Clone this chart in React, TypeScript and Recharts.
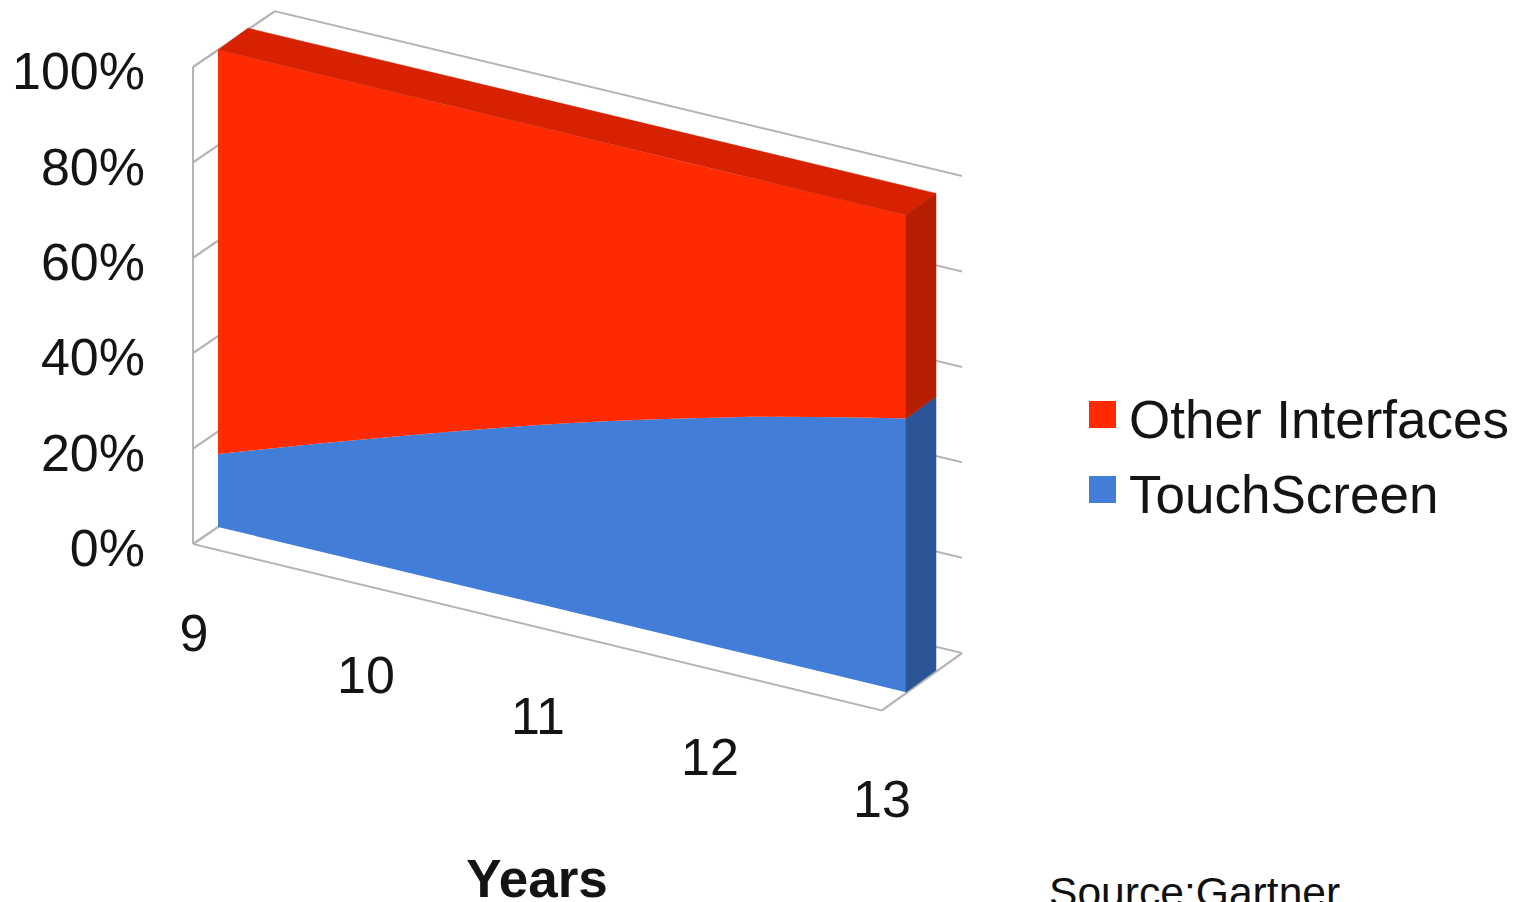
import { Area, AreaChart, CartesianGrid, Legend, XAxis, YAxis } from "recharts";

const years = ["9", "10", "11", "12", "13"];
const touchScreen = [15.3, 27.5, 39, 49, 57.4];
const otherInterfaces = [84.7, 72.5, 61, 51, 42.6];
const percentTicks = [0, 20, 40, 60, 80, 100];

const tableData = years.map((year, i) => ({
  year,
  touchScreen: touchScreen[i],
  otherInterfaces: otherInterfaces[i],
}));

const WIDTH = 1520;
const HEIGHT = 902;
const PLOT_LEFT = 218;
const PLOT_RIGHT = 906;
const PLOT_TOP = 50;
const PLOT_BOTTOM = 527;

// the whole svg is sheared, text gets the opposite shear so it stays level
const SKEW = 13.5;
const FONT = "'Liberation Sans', Arial, sans-serif";
const TEXT_COLOR = "#141414";
const WALL_COLOR = "#b4b4b4";

const RED = "#ff2a00";
const RED_TOP = "#d62200";
const RED_SIDE = "#b61e00";
const BLUE = "#427dd8";
const BLUE_SIDE = "#2b5596";

// extrusion of the front face, in sheared coordinates
const DEPTH_X = 30;
const DEPTH_Y = -29;

function face(x1: number, y1: number, x2: number, y2: number, fill: string, dx = DEPTH_X, dy = DEPTH_Y) {
  const points = `${x1},${y1} ${x2},${y2} ${x2 + dx},${y2 + dy} ${x1 + dx},${y1 + dy}`;
  return <polygon points={points} fill={fill} stroke={fill} strokeWidth={0.5} />;
}

let lastBlueY = 0;

function BlueExtrusion(props: any) {
  const { cx, cy, index } = props;
  if (index !== years.length - 1) return <g key={index} />;
  lastBlueY = cy;
  return <g key={index}>{face(cx, cy, cx, PLOT_BOTTOM, BLUE_SIDE)}</g>;
}

function RedExtrusion(props: any) {
  const { cx, cy, index } = props;
  if (index !== years.length - 1) return <g key={index} />;
  return (
    <g key={index}>
      {face(PLOT_LEFT, cy, cx, cy, RED_TOP)}
      {face(cx, cy, cx, lastBlueY, RED_SIDE)}
    </g>
  );
}

// one grid line becomes the back wall line plus the left wall line
function WallLines(props: any) {
  const { x1, y1, index } = props;
  const backX = x1 + 57;
  const backY = y1 - 52.5;
  const stroke = { stroke: WALL_COLOR, strokeWidth: 2, fill: "none" };
  const isFloor = Math.abs(y1 - PLOT_BOTTOM) < 1;
  return (
    <g key={index}>
      <line x1={backX} y1={backY} x2={x1 + 744} y2={backY} {...stroke} />
      <line x1={x1 - 25} y1={y1 + 23} x2={backX} y2={backY} {...stroke} />
      {isFloor && (
        <>
          <line x1={x1 - 25} y1={y1 + 23} x2={x1 + 664} y2={y1 + 24} {...stroke} />
          <line x1={x1 + 664} y1={y1 + 24} x2={x1 + 744} y2={backY} {...stroke} />
          <line x1={x1 - 25} y1={y1 + 23} x2={x1 - 25} y2={PLOT_TOP + 23} {...stroke} />
        </>
      )}
    </g>
  );
}

function PercentTick(props: any) {
  const { y, payload } = props;
  return (
    <g transform={`translate(145,${y + 38.5}) skewY(${-SKEW})`}>
      <text textAnchor="end" dy="0.35em" fontFamily={FONT} fontSize={52} fill={TEXT_COLOR}>
        {payload.value}%
      </text>
    </g>
  );
}

function YearTick(props: any) {
  const { x, payload } = props;
  return (
    <g transform={`translate(${x - 24},${PLOT_BOTTOM + 112}) skewY(${-SKEW})`}>
      <text textAnchor="middle" dy="0.35em" fontFamily={FONT} fontSize={52} fill={TEXT_COLOR}>
        {payload.value}
      </text>
    </g>
  );
}

function YearsTitle() {
  // sits at 537 across, 878 down on the page
  const localY = 878 - Math.tan((SKEW * Math.PI) / 180) * (537 - PLOT_LEFT);
  return (
    <g transform={`translate(537,${localY}) skewY(${-SKEW})`}>
      <text textAnchor="middle" dy="0.35em" fontFamily={FONT} fontSize={53} fontWeight="bold" fill={TEXT_COLOR}>
        Years
      </text>
    </g>
  );
}

const legendRows = [
  { name: "Other Interfaces", color: RED },
  { name: "TouchScreen", color: BLUE },
];

function SeriesLegend() {
  return (
    <div style={{ fontFamily: FONT, fontSize: 53, color: TEXT_COLOR, whiteSpace: "nowrap" }}>
      {legendRows.map((row) => (
        <div key={row.name} style={{ display: "flex", alignItems: "center", height: 75 }}>
          <span style={{ width: 27, height: 27, background: row.color, marginRight: 13, marginTop: -10 }} />
          <span>{row.name}</span>
        </div>
      ))}
    </div>
  );
}

export default function App() {
  return (
    <div style={{ position: "relative", width: WIDTH, height: HEIGHT, overflow: "hidden", background: "#fff" }}>
      <style>{`
        body { margin: 0; overflow: hidden; }
        .recharts-wrapper > svg.recharts-surface {
          transform: skewY(${SKEW}deg);
          transform-origin: ${PLOT_LEFT}px ${PLOT_BOTTOM}px;
          overflow: visible;
        }
      `}</style>
      <AreaChart
        width={WIDTH}
        height={HEIGHT}
        data={tableData}
        margin={{ top: PLOT_TOP, right: WIDTH - PLOT_RIGHT, bottom: HEIGHT - PLOT_BOTTOM - 30, left: PLOT_LEFT - 80 }}
      >
        <CartesianGrid vertical={false} horizontal={(p: any) => <WallLines {...p} />} />
        <XAxis
          dataKey="year"
          height={30}
          axisLine={false}
          tickLine={false}
          interval={0}
          tick={<YearTick />}
          label={{ content: () => <YearsTitle /> }}
        />
        <YAxis
          width={80}
          domain={[0, 100]}
          ticks={percentTicks}
          axisLine={false}
          tickLine={false}
          tick={<PercentTick />}
        />
        <Legend
          layout="horizontal"
          align="center"
          verticalAlign="middle"
          content={() => <SeriesLegend />}
          wrapperStyle={{ position: "absolute", left: 1089, top: 382, width: "auto", bottom: "auto" }}
        />
        <Area
          type="monotone"
          dataKey="touchScreen"
          name="TouchScreen"
          stackId="share"
          stroke="none"
          fill={BLUE}
          fillOpacity={1}
          isAnimationActive={false}
          dot={(p: any) => <BlueExtrusion key={p.index} {...p} />}
          activeDot={false}
        />
        <Area
          type="monotone"
          dataKey="otherInterfaces"
          name="Other Interfaces"
          stackId="share"
          stroke="none"
          fill={RED}
          fillOpacity={1}
          isAnimationActive={false}
          dot={(p: any) => <RedExtrusion key={p.index} {...p} />}
          activeDot={false}
        />
      </AreaChart>
      <div
        style={{
          position: "absolute",
          left: 1049,
          top: 868,
          fontFamily: FONT,
          fontSize: 42.6,
          color: "#111",
          whiteSpace: "nowrap",
        }}
      >
        Source:Gartner
      </div>
    </div>
  );
}
